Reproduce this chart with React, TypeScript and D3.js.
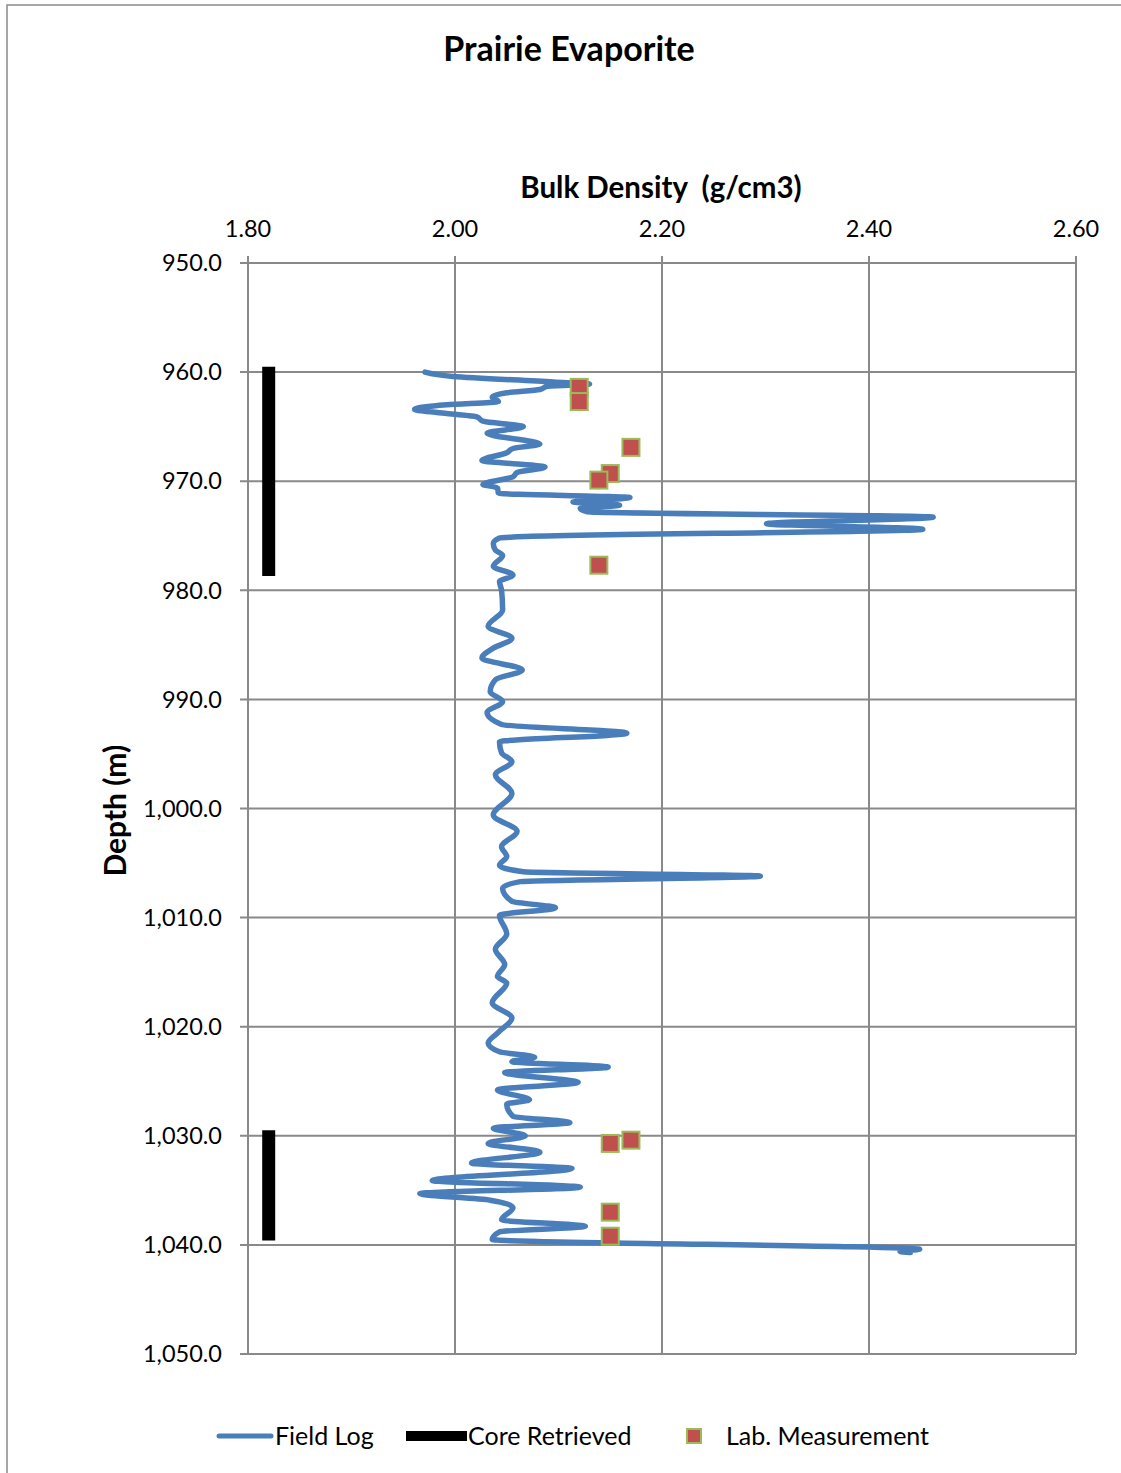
import * as d3 from "d3";
import { useEffect, useRef } from "react";

// bulk density (g/cm3) vs depth (m)
const fieldLog: [number, number][] = [
  [1.971, 960.0], [1.998, 960.4], [2.095, 960.9], [2.13, 961.1], [2.089, 961.3],
  [2.082, 961.6], [2.05, 961.9], [2.036, 962.3], [2.042, 962.7], [1.992, 963.0],
  [1.961, 963.4], [1.992, 963.8], [2.021, 964.1], [2.027, 964.5], [2.066, 965.0],
  [2.031, 965.6], [2.082, 966.6], [2.056, 967.0], [2.05, 967.4], [2.026, 968.1],
  [2.087, 968.7], [2.06, 969.2], [2.056, 969.6], [2.027, 970.3], [2.041, 970.6],
  [2.042, 971.1], [2.169, 971.5], [2.114, 971.9], [2.159, 972.2], [2.121, 972.5],
  [2.128, 972.8], [2.462, 973.3], [2.301, 973.9], [2.452, 974.4], [2.06, 975.1],
  [2.043, 975.2], [2.037, 975.7], [2.039, 976.3], [2.046, 976.8], [2.037, 977.8],
  [2.056, 978.6], [2.043, 979.2], [2.045, 980.0], [2.046, 981.8], [2.032, 983.3],
  [2.055, 984.4], [2.037, 985.3], [2.026, 986.2], [2.065, 987.3], [2.039, 988.2],
  [2.034, 989.3], [2.046, 990.2], [2.031, 991.2], [2.045, 992.3], [2.166, 993.1],
  [2.043, 993.9], [2.045, 994.9], [2.055, 995.7], [2.039, 996.9], [2.055, 998.6],
  [2.037, 1000.6], [2.06, 1002.1], [2.045, 1003.5], [2.05, 1004.4], [2.043, 1005.2],
  [2.066, 1005.8], [2.295, 1006.2], [2.063, 1006.7], [2.046, 1007.3], [2.055, 1008.5],
  [2.097, 1009.1], [2.043, 1009.8], [2.05, 1011.5], [2.039, 1012.9], [2.048, 1014.3],
  [2.041, 1015.4], [2.05, 1016.0], [2.036, 1017.8], [2.055, 1019.2], [2.042, 1020.5],
  [2.032, 1021.5], [2.043, 1022.3], [2.077, 1022.8], [2.055, 1023.2], [2.148, 1023.7],
  [2.048, 1024.2], [2.119, 1025.1], [2.041, 1025.8], [2.072, 1026.7], [2.05, 1027.1],
  [2.056, 1028.2], [2.111, 1028.8], [2.037, 1029.3], [2.068, 1030.0], [2.032, 1030.7],
  [2.082, 1031.5], [2.016, 1032.5], [2.113, 1033.0], [1.978, 1034.1], [2.121, 1034.7],
  [1.966, 1035.3], [2.034, 1035.9], [2.056, 1036.6], [2.045, 1037.7], [2.126, 1038.3],
  [2.043, 1038.8], [2.036, 1039.5], [2.449, 1040.4], [2.43, 1040.6], [2.44, 1040.7],
];

const labMeasurements: [number, number][] = [
  [2.12, 961.4], [2.12, 962.7], [2.17, 966.9], [2.15, 969.3], [2.139, 969.9],
  [2.139, 977.7], [2.15, 1030.7], [2.17, 1030.4], [2.15, 1037.0], [2.15, 1039.2],
];

// core intervals drawn at a fixed density just right of the axis
const coreDensity = 1.82;
const coreIntervals: [number, number][] = [
  [959.5, 978.7],
  [1029.5, 1039.6],
];

const xTicks = [1.8, 2.0, 2.2, 2.4, 2.6];
const yTicks = [950, 960, 970, 980, 990, 1000, 1010, 1020, 1030, 1040, 1050];

const legendItems = ["Field Log", "Core Retrieved", "Lab. Measurement"];

const FONT = "Lato, 'Noto Sans', sans-serif";
const BLUE = "#4a7ebb";
const GRID = "#898989";

export default function App() {
  const ref = useRef<SVGSVGElement>(null);

  useEffect(() => {
    const svg = d3.select(ref.current);
    svg.selectAll("*").remove();

    const margin = { top: 263, left: 248, right: 45, bottom: 119 };
    const W = 1121;
    const H = 1473;
    const width = W - margin.left - margin.right;
    const height = H - margin.top - margin.bottom;

    const X = d3.scaleLinear().domain([1.8, 2.6]).range([0, width]);
    const Y = d3.scaleLinear().domain([950, 1050]).range([0, height]);

    // outer frame (only top and left edges show in the picture)
    svg.append("path")
      .attr("d", `M7,${H} L7,5 L${W},5`)
      .attr("fill", "none")
      .attr("stroke", GRID)
      .attr("stroke-width", 1.5);

    svg.append("text")
      .text("Prairie Evaporite")
      .attr("x", 569).attr("y", 61)
      .attr("text-anchor", "middle")
      .attr("font-family", FONT).attr("font-weight", "bold")
      .attr("font-size", 34).attr("fill", "#000");

    const g = svg.append("g").attr("transform", `translate(${margin.left},${margin.top})`);

    // ------------ grid ------------
    g.selectAll(".vgrid").data(xTicks).join("line")
      .attr("class", "vgrid")
      .attr("x1", (d) => X(d)).attr("x2", (d) => X(d))
      .attr("y1", -7).attr("y2", height)
      .attr("stroke", GRID).attr("stroke-width", 2);

    g.selectAll(".hgrid").data(yTicks).join("line")
      .attr("class", "hgrid")
      .attr("x1", -8).attr("x2", width)
      .attr("y1", (d) => Y(d)).attr("y2", (d) => Y(d))
      .attr("stroke", GRID).attr("stroke-width", 2);

    // ------------ tick labels ------------
    const fx = d3.format(".2f");
    const fy = d3.format(",.1f");

    g.selectAll(".xlab").data(xTicks).join("text")
      .attr("class", "xlab")
      .attr("x", (d) => X(d)).attr("y", -26)
      .attr("text-anchor", "middle")
      .attr("font-family", FONT).attr("font-size", 23.5)
      .text((d) => fx(d));

    g.selectAll(".ylab").data(yTicks).join("text")
      .attr("class", "ylab")
      .attr("x", -26).attr("y", (d) => Y(d))
      .attr("dy", "0.35em")
      .attr("text-anchor", "end")
      .attr("font-family", FONT).attr("font-size", 23.5)
      .text((d) => fy(d));

    g.append("text")
      .text("Bulk Density  (g/cm3)")
      .attr("x", 661 - margin.left).attr("y", -65)
      .attr("text-anchor", "middle")
      .attr("font-family", FONT).attr("font-weight", "bold")
      .attr("font-size", 29.5)
      .style("white-space", "pre");

    g.append("text")
      .text("Depth (m)")
      .attr("transform", `translate(-122,${Y(1000.2)}) rotate(-90)`)
      .attr("text-anchor", "middle")
      .attr("font-family", FONT).attr("font-weight", "bold")
      .attr("font-size", 30);

    // ------------ series ------------
    g.selectAll(".core").data(coreIntervals).join("line")
      .attr("class", "core")
      .attr("x1", X(coreDensity)).attr("x2", X(coreDensity))
      .attr("y1", (d) => Y(d[0])).attr("y2", (d) => Y(d[1]))
      .attr("stroke", "#000").attr("stroke-width", 13);

    const line = d3.line<[number, number]>()
      .x((d) => X(d[0]))
      .y((d) => Y(d[1]))
      .curve(d3.curveMonotoneY);

    g.append("path")
      .datum(fieldLog)
      .attr("d", line)
      .attr("fill", "none")
      .attr("stroke", BLUE)
      .attr("stroke-width", 5.5)
      .attr("stroke-linejoin", "round")
      .attr("stroke-linecap", "round");

    const sq = 17;
    g.selectAll(".lab").data(labMeasurements).join("rect")
      .attr("class", "lab")
      .attr("x", (d) => X(d[0]) - sq / 2)
      .attr("y", (d) => Y(d[1]) - sq / 2)
      .attr("width", sq).attr("height", sq)
      .attr("fill", "#c0504d")
      .attr("stroke", "#9bbb59").attr("stroke-width", 2);

    // ------------ legend ------------
    const ly = 1436;
    const leg = svg.append("g");
    leg.append("line")
      .attr("x1", 219).attr("x2", 271).attr("y1", ly).attr("y2", ly)
      .attr("stroke", BLUE).attr("stroke-width", 5).attr("stroke-linecap", "round");
    leg.append("rect")
      .attr("x", 406).attr("y", ly - 5).attr("width", 61).attr("height", 10)
      .attr("fill", "#000");
    leg.append("rect")
      .attr("x", 687).attr("y", ly - 7).attr("width", 14).attr("height", 14)
      .attr("fill", "#c0504d").attr("stroke", "#9bbb59").attr("stroke-width", 2);

    const legX = [275, 468, 726];
    leg.selectAll("text").data(legendItems).join("text")
      .attr("x", (_d, i) => legX[i]).attr("y", ly)
      .attr("dy", "0.35em")
      .attr("font-family", FONT).attr("font-size", 25)
      .text((d) => d);
  }, []);

  return (
    <svg
      ref={ref}
      width={1121}
      height={1473}
      style={{ position: "absolute", left: 0, top: 0, background: "#fff" }}
    />
  );
}
